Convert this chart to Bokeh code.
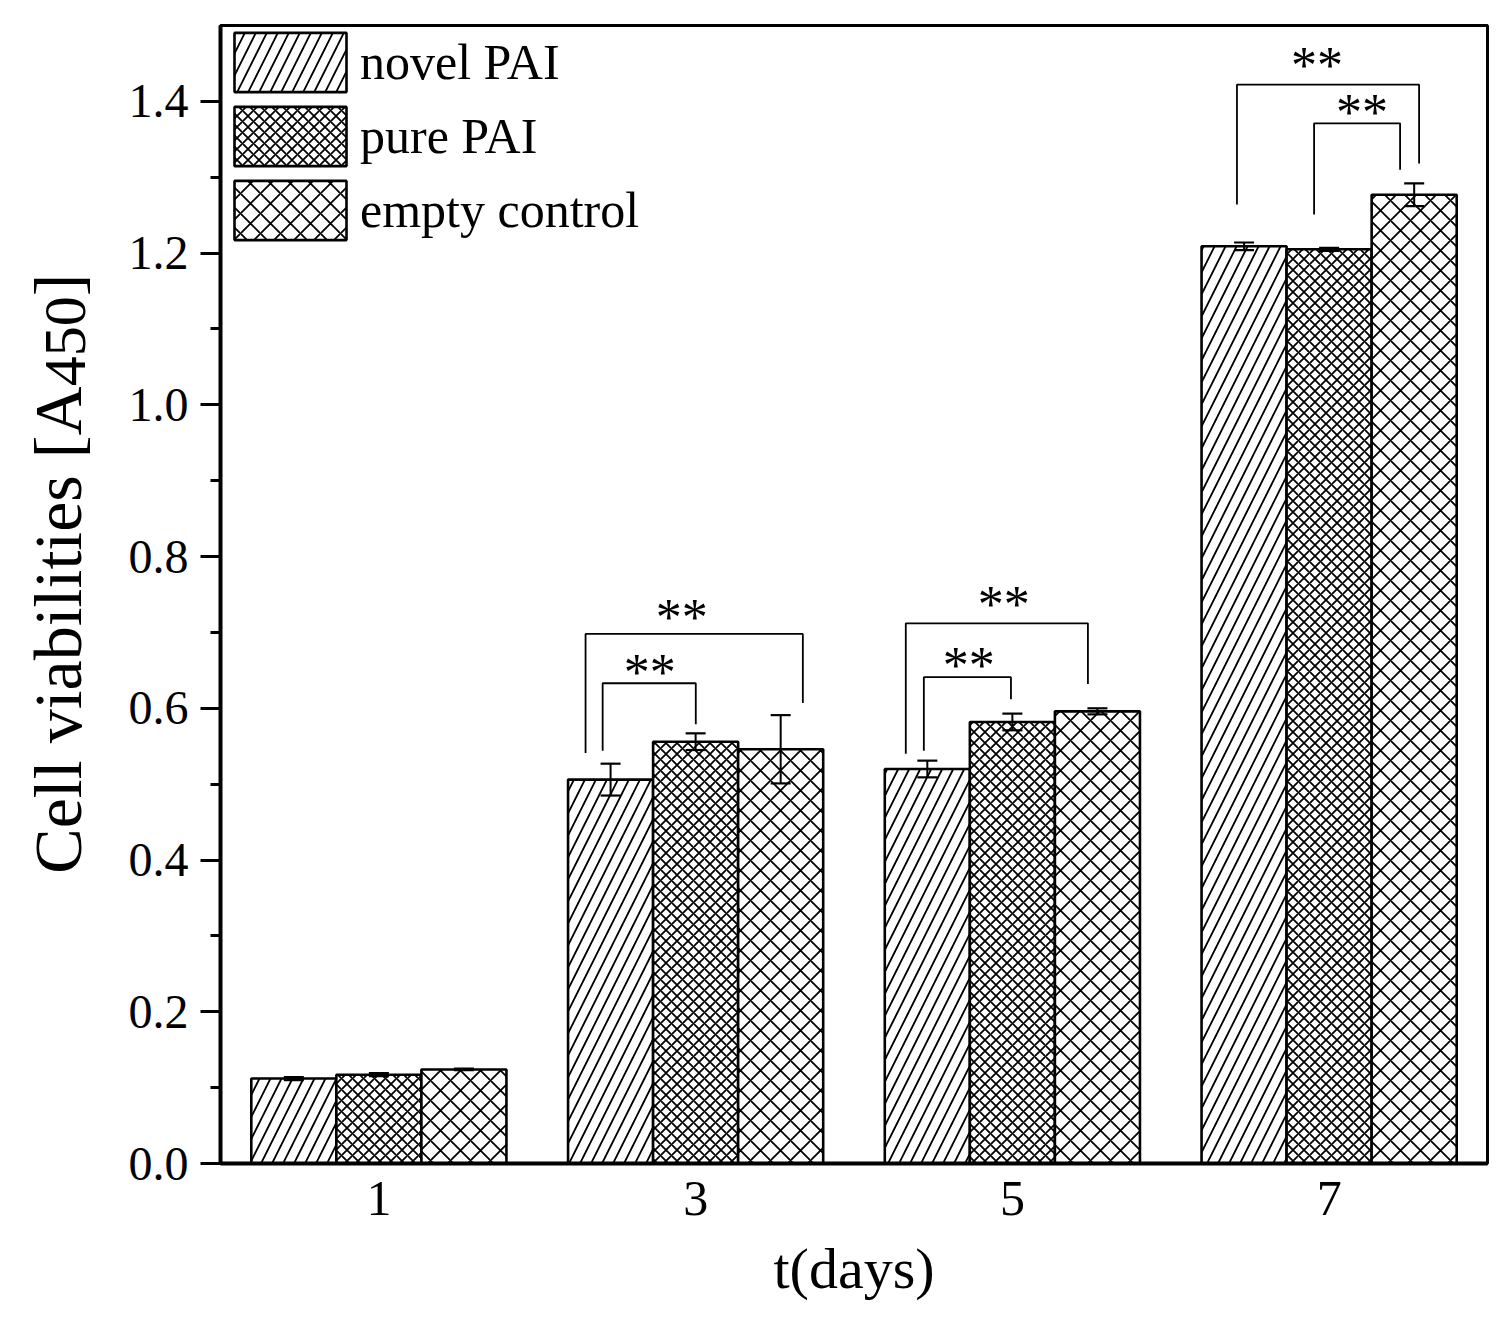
import math
from bokeh.plotting import figure
from bokeh.layouts import row
from bokeh.models import (Range1d, FixedTicker, Legend, LegendItem, ColumnDataSource,
                          Whisker, TeeHead)
from bokeh.embed import file_html
from bokeh.resources import INLINE
from bokeh.core.properties import value

# ---------------- data ----------------
days = [1, 3, 5, 7]
day_labels = ["1", "3", "5", "7"]
series_names = ["novel PAI", "pure PAI", "empty control"]

novel = [0.112, 0.506, 0.520, 1.209]
novel_err = [0.002, 0.021, 0.011, 0.005]
pure = [0.117, 0.556, 0.582, 1.205]
pure_err = [0.002, 0.011, 0.011, 0.002]
empty = [0.124, 0.546, 0.596, 1.277]
empty_err = [0.001, 0.045, 0.004, 0.015]

y_ticks = [0.0, 0.2, 0.4, 0.6, 0.8, 1.0, 1.2, 1.4]
y_tick_labels = ["0.0", "0.2", "0.4", "0.6", "0.8", "1.0", "1.2", "1.4"]
y_minor = [0.1, 0.3, 0.5, 0.7, 0.9, 1.1, 1.3]

# significance brackets (x left, x right, top, left leg end, right leg end)
br_x0 = [2.305, 2.413, 4.327, 4.441, 6.418, 6.905]
br_x1 = [3.677, 3.001, 5.477, 4.991, 7.568, 7.448]
br_top = [0.698, 0.633, 0.712, 0.641, 1.422, 1.371]
br_left_end = [0.541, 0.544, 0.540, 0.544, 1.264, 1.251]
br_right_end = [0.607, 0.579, 0.632, 0.612, 1.318, 1.310]
star_x = [2.912, 2.710, 4.946, 4.725, 6.924, 7.208]
star_y = [0.720, 0.647, 0.737, 0.656, 1.447, 1.385]
star_text = ["**"] * 6

ylabel_main = "Cell viabilities [A"
ylabel_sub = "450"
ylabel_end = "]"

FONT = "Liberation Serif"
BAR_W = 0.537
offsets = [-BAR_W, 0.0, BAR_W]
hatches = ["/", "x", "x"]
hatch_scales = [22, 11, 20]
values_all = [novel, pure, empty]
errs_all = [novel_err, pure_err, empty_err]

LAB_W = 110
TOP_B = 25
BOT_B = 149
H = 1312

p = figure(width=1383, height=H, output_backend="svg", toolbar_location=None,
           x_range=Range1d(0, 8), y_range=Range1d(0, 1.5),
           min_border_left=110, min_border_right=6, min_border_top=TOP_B,
           min_border_bottom=BOT_B)
p.background_fill_color = "white"
p.border_fill_color = "white"
p.outline_line_color = "black"
p.outline_line_width = 3
p.xgrid.visible = False
p.ygrid.visible = False

renderers = []
for vals, errs, off, h, hs in zip(values_all, errs_all, offsets, hatches, hatch_scales):
    xs = [d + off for d in days]
    src = ColumnDataSource(dict(x=xs, top=vals,
                                upper=[v + e for v, e in zip(vals, errs)],
                                lower=[v - e for v, e in zip(vals, errs)]))
    r = p.vbar(x="x", top="top", width=BAR_W, bottom=0, source=src,
               fill_color="white", line_color="black", line_width=2.6,
               hatch_pattern=h, hatch_scale=hs, hatch_color="black", hatch_weight=1.8)
    renderers.append(r)
    w = Whisker(base="x", upper="upper", lower="lower", source=src,
                line_color="black", line_width=2, level="overlay",
                upper_head=TeeHead(size=20, line_width=2.2, line_color="black"),
                lower_head=TeeHead(size=20, line_width=2.2, line_color="black"))
    p.add_layout(w)

# brackets
bx = [[a, a, b, b] for a, b in zip(br_x0, br_x1)]
by = [[l, t, t, r] for l, t, r in zip(br_left_end, br_top, br_right_end)]
p.multi_line(xs=bx, ys=by, line_color="black", line_width=1.8)
p.text(x=star_x, y=star_y, text=star_text, text_font=value(FONT), text_font_size="52px",
       text_align="center", text_baseline="alphabetic", text_color="black")

# legend
legend = Legend(items=[LegendItem(label=n, renderers=[r]) for n, r in zip(series_names, renderers)],
                location="top_left", glyph_width=140, glyph_height=74, label_standoff=0,
                spacing=0, padding=3, margin=0, border_line_color=None,
                background_fill_alpha=0, label_text_font=FONT, label_text_font_size="50px",
                label_text_color="black")
p.add_layout(legend)

# y axis
ya = p.yaxis[0]
ya.ticker = FixedTicker(ticks=y_ticks, minor_ticks=y_minor)
ya.major_label_overrides = {t: l for t, l in zip(y_ticks, y_tick_labels)}
ya.major_label_text_font = FONT
ya.major_label_text_font_size = "48px"
ya.major_label_text_color = "black"
ya.axis_line_width = 4
ya.axis_line_color = "black"
ya.major_tick_line_width = 3
ya.minor_tick_line_width = 3
ya.major_tick_line_color = "black"
ya.minor_tick_line_color = "black"
ya.major_tick_out = 20
ya.major_tick_in = 0
ya.minor_tick_out = 10
ya.minor_tick_in = 0
ya.major_label_standoff = 12

# x axis
xa = p.xaxis[0]
xa.ticker = FixedTicker(ticks=days, minor_ticks=[])
xa.major_label_overrides = {d: l for d, l in zip(days, day_labels)}
xa.major_label_text_font = FONT
xa.major_label_text_font_size = "50px"
xa.major_label_text_color = "black"
xa.axis_line_width = 4
xa.axis_line_color = "black"
xa.major_tick_line_color = None
xa.minor_tick_line_color = None
xa.major_label_standoff = 12
xa.axis_label = "t(days)"
xa.axis_label_text_font = FONT
xa.axis_label_text_font_size = "58px"
xa.axis_label_text_font_style = "normal"
xa.axis_label_text_color = "black"
xa.axis_label_standoff = 18

# y-axis title panel (text with subscript), sharing the y range of the chart
lab = figure(width=LAB_W, height=H, output_backend="svg", toolbar_location=None,
             x_range=Range1d(0, LAB_W), y_range=p.y_range,
             x_axis_type=None, y_axis_type=None,
             min_border_left=0, min_border_right=0, min_border_top=TOP_B,
             min_border_bottom=BOT_B)
lab.outline_line_color = None
lab.xgrid.visible = False
lab.ygrid.visible = False
lab.background_fill_color = "white"
lab.border_fill_color = "white"

px_per_unit = (H - TOP_B - BOT_B) / 1.5
main_size = 68
sub_size = 60
y0 = 0.382
w_main = 7.167 * main_size / px_per_unit
w_sub = 1.5 * sub_size / px_per_unit
lab.text(x=[57], y=[y0], text=[ylabel_main], angle=math.pi / 2, text_align="left",
         text_baseline="middle", text_font=value(FONT), text_font_size=f"{main_size}px",
         text_color="black")
lab.text(x=[65], y=[y0 + w_main], text=[ylabel_sub], angle=math.pi / 2, text_align="left",
         text_baseline="middle", text_font=value(FONT), text_font_size=f"{sub_size}px",
         text_color="black")
lab.text(x=[57], y=[y0 + w_main + w_sub], text=[ylabel_end], angle=math.pi / 2,
         text_align="left", text_baseline="middle", text_font=value(FONT),
         text_font_size=f"{main_size}px", text_color="black")

layout = row(lab, p)
open("out.html", "w").write(file_html(layout, INLINE))
